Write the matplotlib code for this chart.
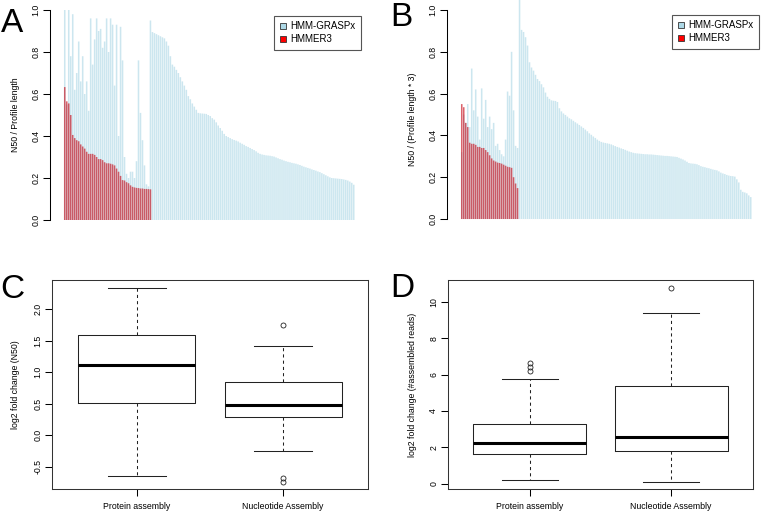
# -*- coding: utf-8 -*-
import matplotlib
matplotlib.use("Agg")
import matplotlib.pyplot as plt
from matplotlib.patches import Patch
import numpy as np

plt.rcParams['font.family'] = ['Liberation Sans', 'DejaVu Sans']

# ---- panel A : N50 / profile length ----
# profiles that HMMER3 also assembled (sorted by HMMER3 value)
a_hmmer = [0.633, 0.565, 0.555, 0.50, 0.405, 0.39, 0.38, 0.375, 0.36, 0.35,
           0.34, 0.325, 0.315, 0.315, 0.315, 0.31, 0.30, 0.29, 0.29, 0.285,
           0.275, 0.27, 0.27, 0.268, 0.265, 0.26, 0.245, 0.23, 0.21, 0.19,
           0.188, 0.18, 0.175, 0.165, 0.158, 0.155, 0.153, 0.152, 0.15, 0.15,
           0.148, 0.148, 0.147, 0.146]
a_grasp_shared = [1.00, 0.55, 1.00, 0.78, 0.98, 0.62, 0.70, 0.85, 0.66, 0.78,
                  0.60, 0.66, 0.52, 0.96, 0.74, 0.86, 0.96, 0.90, 0.91, 0.82,
                  0.85, 0.96, 0.80, 0.96, 0.93, 0.64, 0.93, 0.40, 0.92, 0.76,
                  0.30, 0.22, 0.20, 0.23, 0.23, 0.20, 0.28, 0.76, 0.51, 0.38,
                  0.26, 0.17, 0.16, 0.95]
# profiles only HMM-GRASPx assembled
a_grasp_only = [0.895, 0.89, 0.885, 0.88, 0.875, 0.87, 0.865, 0.85, 0.83, 0.78,
                0.74, 0.73, 0.715, 0.70, 0.68, 0.66, 0.64, 0.62, 0.59, 0.575,
                0.555, 0.54, 0.525, 0.51, 0.508, 0.507, 0.506, 0.505, 0.50, 0.495,
                0.485, 0.478, 0.465, 0.45, 0.438, 0.425, 0.41, 0.40, 0.395, 0.39,
                0.385, 0.381, 0.378, 0.374, 0.368, 0.363, 0.358, 0.352, 0.348, 0.343,
                0.338, 0.333, 0.327, 0.32, 0.315, 0.312, 0.31, 0.308, 0.307, 0.306,
                0.304, 0.302, 0.298, 0.294, 0.29, 0.287, 0.283, 0.28, 0.277, 0.275,
                0.272, 0.27, 0.268, 0.265, 0.262, 0.258, 0.254, 0.251, 0.248, 0.245,
                0.241, 0.238, 0.235, 0.231, 0.228, 0.223, 0.218, 0.213, 0.208, 0.203,
                0.20, 0.199, 0.198, 0.197, 0.196, 0.195, 0.193, 0.191, 0.188, 0.183,
                0.177, 0.168]

# ---- panel B : N50 / (profile length * 3) ----
b_hmmer = [0.55, 0.535, 0.46, 0.44, 0.365, 0.36, 0.36, 0.355, 0.345, 0.345,
           0.34, 0.34, 0.33, 0.32, 0.305, 0.29, 0.28, 0.275, 0.27, 0.268,
           0.265, 0.26, 0.255, 0.25, 0.248, 0.245, 0.20, 0.17, 0.148]
b_grasp_shared = [0.32, 0.50, 0.46, 0.55, 0.44, 0.72, 0.52, 0.62, 0.49, 0.38,
                  0.625, 0.48, 0.57, 0.44, 0.49, 0.43, 0.46, 0.35, 0.36, 0.33,
                  0.31, 0.30, 0.38, 0.61, 0.59, 0.80, 0.52, 0.35, 0.34]
b_grasp_only = [1.05, 0.905, 0.895, 0.87, 0.83, 0.75, 0.725, 0.71, 0.69, 0.67,
                0.66, 0.645, 0.63, 0.605, 0.585, 0.575, 0.568, 0.566, 0.565, 0.56,
                0.53, 0.515, 0.505, 0.498, 0.49, 0.482, 0.477, 0.47, 0.463, 0.457,
                0.45, 0.443, 0.436, 0.428, 0.42, 0.41, 0.403, 0.395, 0.388, 0.38,
                0.374, 0.369, 0.366, 0.364, 0.362, 0.36, 0.357, 0.353, 0.349, 0.345,
                0.342, 0.338, 0.335, 0.331, 0.327, 0.323, 0.32, 0.317, 0.315, 0.314,
                0.313, 0.312, 0.311, 0.31, 0.31, 0.309, 0.309, 0.308, 0.307, 0.306,
                0.305, 0.304, 0.303, 0.302, 0.302, 0.301, 0.30, 0.299, 0.298, 0.297,
                0.293, 0.289, 0.285, 0.28, 0.274, 0.268, 0.266, 0.265, 0.264, 0.262,
                0.258, 0.253, 0.25, 0.248, 0.245, 0.243, 0.24, 0.237, 0.235, 0.233,
                0.228, 0.222, 0.218, 0.215, 0.211, 0.208, 0.206, 0.205, 0.203, 0.19,
                0.175, 0.14, 0.13, 0.127, 0.123, 0.113, 0.105]

# ---- panels C / D : boxplot summaries ----
box_labels = ["Protein assembly", "Nucleotide Assembly"]

c_med = [1.12, 0.485]
c_q1 = [0.505, 0.29]
c_q3 = [1.59, 0.84]
c_lo = [-0.645, -0.25]
c_hi = [2.335, 1.41]
c_out = [[], [1.75, -0.68, -0.74]]

d_med = [2.23, 2.57]
d_q1 = [1.66, 1.81]
d_q3 = [3.28, 5.35]
d_lo = [0.24, 0.11]
d_hi = [5.77, 9.36]
d_out = [[6.17, 6.41, 6.62], [10.77]]

W, H = 764.0, 511.0
TICK_FS = 6.3
LEG_LABELS = ["HMM-GRASPx", "HMMER3"]


def px_rect(x0, y0, x1, y1):
    # pixel box (from top-left) -> figure fraction rect
    return [x0 / W, 1 - y1 / H, (x1 - x0) / W, (y1 - y0) / H]


def bar_panel(fig, rect, grasp, hmmer, ylim, ylab, leg_xy):
    ax = fig.add_axes(rect)
    x = np.arange(len(grasp))
    # snap=False so the thin bars blend instead of jumping to whole pixels
    ax.bar(x, grasp, width=0.78, color='lightblue', alpha=0.62, linewidth=0, snap=False)
    ax.bar(np.arange(len(hmmer)), hmmer, width=0.78, color='#C8101E', alpha=0.65,
           linewidth=0, snap=False)
    ax.set_xlim(-7.4, len(grasp) - 1 + 7.4)
    ax.set_ylim(*ylim)
    for s in ['top', 'right', 'bottom']:
        ax.spines[s].set_visible(False)
    ax.spines['left'].set_bounds(0, 1.0)
    ax.spines['left'].set_linewidth(0.75)
    ax.set_xticks([])
    ax.set_yticks(np.arange(0, 1.01, 0.2))
    ax.set_yticklabels(["%.1f" % v for v in np.arange(0, 1.01, 0.2)], rotation=90, va='center')
    ax.tick_params(axis='y', length=5, width=0.75, pad=2, labelsize=TICK_FS)
    ax.set_ylabel(ylab, fontsize=TICK_FS)
    handles = [Patch(facecolor='lightblue', edgecolor='#333333', linewidth=0.6),
               Patch(facecolor='red', edgecolor='#333333', linewidth=0.6)]
    leg = ax.legend(handles, LEG_LABELS, loc='upper right',
                    bbox_to_anchor=(leg_xy[0] / W, 1 - leg_xy[1] / H),
                    bbox_transform=fig.transFigure, borderaxespad=0,
                    fancybox=False, edgecolor='#555555', framealpha=1,
                    fontsize=7, handlelength=0.6, handleheight=0.6,
                    handletextpad=0.5, borderpad=0.55, labelspacing=0.3)
    leg.get_frame().set_linewidth(0.8)
    return ax


def box_panel(fig, rect, med, q1, q3, lo, hi, out, ylim, yticks, ylab):
    ax = fig.add_axes(rect)
    stats = []
    for i in range(len(med)):
        stats.append(dict(med=med[i], q1=q1[i], q3=q3[i], whislo=lo[i],
                          whishi=hi[i], fliers=out[i], label=box_labels[i]))
    ax.bxp(stats, positions=[1, 2], widths=0.8, capwidths=0.4,
           boxprops=dict(color='#222222', linewidth=0.75),
           medianprops=dict(color='black', linewidth=2.2),
           whiskerprops=dict(color='#222222', linewidth=0.75, linestyle=(0, (3, 3))),
           capprops=dict(color='#222222', linewidth=0.75),
           flierprops=dict(marker='o', markerfacecolor='none', markeredgecolor='#222222',
                           markersize=3.6, markeredgewidth=0.6))
    ax.set_xlim(0.42, 2.58)
    ax.set_ylim(*ylim)
    ax.set_yticks(yticks)
    ax.set_yticklabels([str(t) for t in yticks], rotation=90, va='center')
    for s in ax.spines.values():
        s.set_linewidth(0.75)
        s.set_color('#333333')
    ax.tick_params(length=5, width=0.75, labelsize=TICK_FS)
    ax.tick_params(axis='y', pad=2)
    ax.tick_params(axis='x', pad=4)
    ax.set_ylabel(ylab, fontsize=TICK_FS)
    return ax


if __name__ == "__main__":
    fig = plt.figure(figsize=(7.64, 5.11), dpi=100)

    axA = bar_panel(fig, px_rect(50, 1.6, 368.5, 228.4),
                    a_grasp_shared + a_grasp_only, a_hmmer, (-0.04, 1.04),
                    "N50 / Profile length", (361, 16))
    axA.yaxis.set_label_coords(-0.094, 0.5)

    axB = bar_panel(fig, px_rect(447, -9.2, 765.5, 227.8),
                    b_grasp_shared + b_grasp_only, b_hmmer, (-0.042, 1.092),
                    "N50 / (Profile length * 3)", (759, 15))
    axB.yaxis.set_label_coords(-0.094, 0.46)

    axC = box_panel(fig, px_rect(52, 280, 368, 489), c_med, c_q1, c_q3, c_lo, c_hi, c_out,
                    (-0.85, 2.46), [-0.5, 0.0, 0.5, 1.0, 1.5, 2.0], "log2 fold change (N50)")
    axC.yaxis.set_label_coords(-0.101, 0.5)

    axD = box_panel(fig, px_rect(448, 280, 753, 489), d_med, d_q1, d_q3, d_lo, d_hi, d_out,
                    (-0.28, 11.19), [0, 2, 4, 6, 8, 10], "log2 fold change (#assembled reads)")
    axD.yaxis.set_label_coords(-0.102, 0.5)

    # panel letters
    for letter, x, y in [("A", 0.5, 32), ("B", 390, 26), ("C", 0, 298), ("D", 390, 297)]:
        fig.text(x / W, 1 - y / H, letter, fontsize=24, ha='left', va='baseline')

    fig.savefig("out.png", dpi=100)
